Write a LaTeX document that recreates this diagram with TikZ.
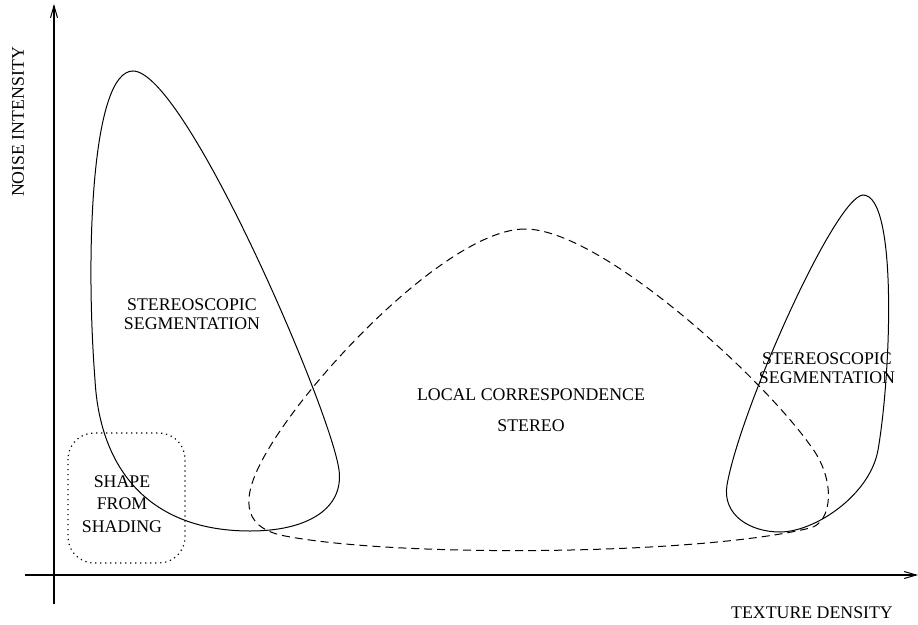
\documentclass[tikz,border=0pt]{standalone}
\usepackage{fontspec}
\setmainfont{Liberation Serif}
\usetikzlibrary{arrows.meta}
\tikzset{
  lbl/.style={inner sep=0pt, align=center, font=\fontsize{17.8}{19.5}\selectfont},
  axisline/.style={line width=1.3pt, -{Straight Barb[length=12pt,width=7pt,line width=1pt]}},
  blob/.style={line width=1pt},
  dashblob/.style={line width=1pt, dash pattern=on 8pt off 5pt},
  dotbox/.style={line width=1.2pt, dash pattern=on 1.2pt off 3.8pt, rounded corners=26pt}
}
\begin{document}
\begin{tikzpicture}[x=1pt,y=-1pt]
\useasboundingbox (0,0) rectangle (918,624);
% axes
\coordinate (ybot) at (54,604);
\coordinate (ytop) at (54,4);
\coordinate (xleft) at (25,575);
\coordinate (xright) at (918,575);
\draw[axisline] (ybot) -- (ytop);
\draw[axisline] (xleft) -- (xright);
% left solid blob
\draw[blob] (133,71) .. controls (185,71) and (331,410) .. (339,470)
  .. controls (344,507) and (310,531) .. (250,531)
  .. controls (150,531) and (100,470) .. (95,380)
  .. controls (85,250) and (92,71) .. (133,71) -- cycle;
% right solid blob
\draw[blob] (863,195) .. controls (835,197) and (740,410) .. (727,485)
  .. controls (722,515) and (750,532) .. (780,532)
  .. controls (815,532) and (870,495) .. (878,450)
  .. controls (891,375) and (898,195) .. (863,195) -- cycle;
% dashed region
\draw[dashblob] (525,229) .. controls (450,229) and (310,375) .. (265,455)
  .. controls (243,494) and (238,527) .. (285,536)
  .. controls (400,558) and (700,555) .. (810,528)
  .. controls (832,523) and (837,480) .. (810,445)
  .. controls (760,375) and (600,229) .. (525,229) -- cycle;
% dotted box
\draw[dotbox] (68,433) rectangle (185,563);
% labels
\node[lbl, rotate=90] (ylab) at (18,122) {NOISE INTENSITY};
\node[lbl] (xlab) at (812,613) {TEXTURE DENSITY};
\node[lbl] (ssl) at (192,314) {STEREOSCOPIC\\SEGMENTATION};
\node[lbl] (ssr) at (827,368) {STEREOSCOPIC\\SEGMENTATION};
\node[lbl] (lcs) at (531,410) {LOCAL CORRESPONDENCE\\[11pt]STEREO};
\node[lbl, font=\fontsize{17.8}{22.5}\selectfont] (sfs) at (122,504) {SHAPE\\FROM\\SHADING};
\end{tikzpicture}
\end{document}
